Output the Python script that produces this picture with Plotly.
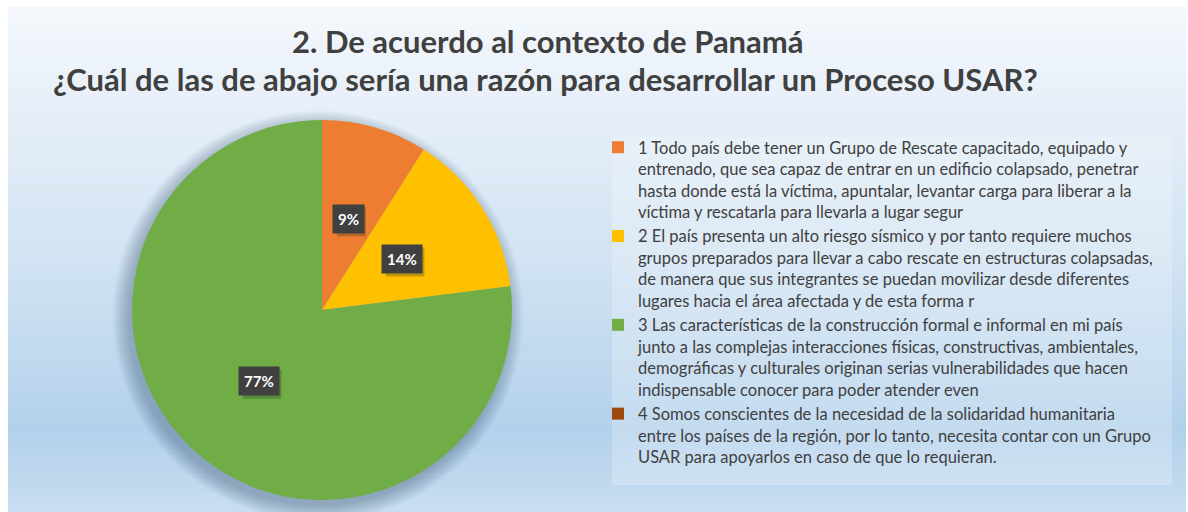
import math
import plotly.graph_objects as go

# ---------------- data ----------------
categories = [
    "1 Todo país debe tener un Grupo de Rescate capacitado, equipado y<br>entrenado, que sea capaz de entrar en un edificio colapsado, penetrar<br>hasta donde está la víctima, apuntalar, levantar carga para liberar a la<br>víctima y rescatarla para llevarla a lugar segur",
    "2 El país presenta un alto riesgo sísmico y por tanto requiere muchos<br>grupos preparados para llevar a cabo rescate en estructuras colapsadas,<br>de manera que sus integrantes se puedan movilizar desde diferentes<br>lugares hacia el área afectada y de esta forma r",
    "3 Las características de la construcción formal e informal en mi país<br>junto a las complejas interacciones físicas, constructivas, ambientales,<br>demográficas y culturales originan serias vulnerabilidades que hacen<br>indispensable conocer para poder atender even",
    "4 Somos conscientes de la necesidad de la solidaridad humanitaria<br>entre los países de la región, por lo tanto, necesita contar con un Grupo<br>USAR para apoyarlos en caso de que lo requieran.",
]
values = [9, 14, 77, 0]
colors = ["#ED7D31", "#FFC000", "#70AD47", "#9E480E"]
title_line1 = "2. De acuerdo al contexto de Panamá"
title_line2 = "¿Cuál de las de abajo sería una razón para desarrollar un Proceso USAR?"

# ---------------- layout geometry (pixels) ----------------
W, H = 1188, 512
CX, CY, R = 322, 310, 190  # pie center / radius in pixels (from top-left)


def px(x):
    return x / W


def py(y):
    return 1 - y / H


def lerp_color(stops, y):
    for (y0, c0), (y1, c1) in zip(stops, stops[1:]):
        if y0 <= y <= y1:
            t = (y - y0) / (y1 - y0)
            return "rgb(%d,%d,%d)" % tuple(round(a + (b - a) * t) for a, b in zip(c0, c1))
    return "rgb(%d,%d,%d)" % stops[-1][1]


shapes = []
# gradient background bands
stops = [(7, (244, 248, 252)), (120, (229, 238, 248)), (250, (211, 228, 243)),
         (430, (179, 209, 235)), (512, (200, 221, 241))]
top, bot = 7, 512
nb = 80
for i in range(nb):
    y0 = top + (bot - top) * i / nb
    y1 = top + (bot - top) * (i + 1) / nb + 0.6
    shapes.append(dict(type="rect", xref="paper", yref="paper", x0=px(8), x1=px(1186),
                       y0=py(y1), y1=py(y0), line=dict(width=0),
                       fillcolor=lerp_color(stops, (y0 + y1) / 2), layer="below"))

# soft shadow around pie (offset toward lower-left)
for k in range(12):
    rr = R + 15 - k * 1.4
    shapes.append(dict(type="circle", xref="paper", yref="paper",
                       x0=px(CX - 4 - rr), x1=px(CX - 4 + rr),
                       y0=py(CY + 6 + rr), y1=py(CY + 6 - rr),
                       line=dict(width=0), fillcolor="rgba(60,90,120,0.035)", layer="below"))

# legend panel
shapes.append(dict(type="rect", xref="paper", yref="paper", x0=px(612), x1=px(1172),
                   y0=py(485), y1=py(137), line=dict(width=0),
                   fillcolor="rgba(255,255,255,0.22)", layer="below"))

fig = go.Figure()
fig.add_trace(go.Pie(
    labels=categories,
    values=values,
    sort=False,
    direction="clockwise",
    rotation=0,
    textinfo="none",
    hoverinfo="label+percent",
    marker=dict(colors=colors, line=dict(width=0)),
    domain=dict(x=[px(CX - R), px(CX + R)], y=[py(CY + R), py(CY - R)]),
    showlegend=True,
))

# percentage label boxes computed from the data
total = sum(values)
annotations = []
cum = 0
for v in values:
    if v > 0:
        mid = (cum + v / 2) / total * 2 * math.pi
        lx = CX + 0.5 * R * math.sin(mid)
        ly = CY - 0.5 * R * math.cos(mid)
        pct = "%d%%" % round(v / total * 100)
        bw = 9.5 * len(pct) + 8
        bh = 27
        shapes.append(dict(type="rect", xref="paper", yref="paper",
                           x0=px(lx - bw / 2 + 2), x1=px(lx + bw / 2 + 4),
                           y0=py(ly + bh / 2 + 4), y1=py(ly - bh / 2 + 2),
                           line=dict(width=0), fillcolor="rgba(30,50,20,0.28)"))
        annotations.append(dict(x=px(lx), y=py(ly), xref="paper", yref="paper",
                                xanchor="center", yanchor="middle",
                                text="<b>%s</b>" % pct, showarrow=False,
                                font=dict(family="Lato", size=15, color="#FFFFFF"),
                                bgcolor="#404040", borderpad=5))
    cum += v

annotations.append(dict(x=px(548), y=py(41), xref="paper", yref="paper",
                        xanchor="center", yanchor="middle",
                        text="<b>%s</b>" % title_line1, showarrow=False,
                        font=dict(family="Lato", size=31, color="#404040")))
annotations.append(dict(x=px(545), y=py(79), xref="paper", yref="paper",
                        xanchor="center", yanchor="middle",
                        text="<b>%s</b>" % title_line2, showarrow=False,
                        font=dict(family="Lato", size=31, color="#404040")))

fig.update_layout(
    width=W, height=H,
    margin=dict(l=0, r=0, t=0, b=0),
    paper_bgcolor="#FFFFFF",
    plot_bgcolor="rgba(0,0,0,0)",
    shapes=shapes,
    annotations=annotations,
    legend=dict(x=px(598), y=py(130), xanchor="left", yanchor="top",
                bgcolor="rgba(0,0,0,0)", valign="top",
                font=dict(family="Lato", size=16.5, color="#404040"),
                itemwidth=30, tracegroupgap=0),
)

fig.write_html("out.html", config={"displayModeBar": False},
               post_script="document.body.style.margin='0';document.body.style.overflow='hidden';")
